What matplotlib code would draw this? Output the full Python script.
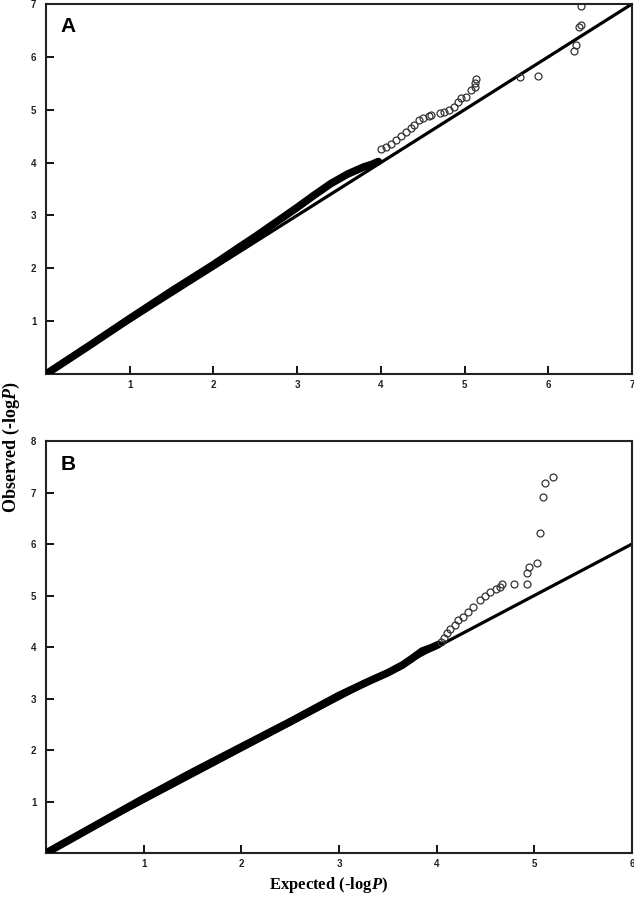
import matplotlib
matplotlib.use("Agg")
import matplotlib.pyplot as plt

# mathtext italic P in the axis labels
plt.rcParams['mathtext.fontset'] = 'custom'
plt.rcParams['mathtext.it'] = 'Liberation Serif:italic:bold'
plt.rcParams['mathtext.rm'] = 'Liberation Serif:bold'

# ---- Panel A data ----
a_band_exp = [0, 0.5, 1.0, 1.5, 2.0, 2.3, 2.5, 2.8, 3.0, 3.2, 3.4, 3.6, 3.8, 3.9, 3.97]
a_band_obs = [0, 0.52, 1.05, 1.57, 2.07, 2.39, 2.6, 2.93, 3.15, 3.38, 3.6, 3.78, 3.92, 3.97, 4.02]
a_tail_exp = [4.00, 4.06, 4.12, 4.18, 4.24, 4.30, 4.36, 4.40, 4.46, 4.50, 4.57, 4.60,
              4.71, 4.76, 4.82, 4.87, 4.92, 4.96, 5.02, 5.08, 5.12, 5.13, 5.14,
              5.66, 5.88, 6.31, 6.33, 6.37, 6.39, 6.39]
a_tail_obs = [4.25, 4.29, 4.35, 4.42, 4.50, 4.58, 4.65, 4.71, 4.80, 4.84, 4.88, 4.90,
              4.93, 4.96, 5.00, 5.05, 5.15, 5.22, 5.24, 5.37, 5.42, 5.50, 5.58,
              5.61, 5.63, 6.11, 6.22, 6.56, 6.60, 6.96]
a_diag = [0, 7]

# ---- Panel B data ----
b_band_exp = [0, 0.5, 1.0, 1.5, 2.0, 2.5, 3.0, 3.3, 3.5, 3.65, 3.75, 3.85, 3.95, 4.02]
b_band_obs = [0, 0.53, 1.06, 1.57, 2.06, 2.55, 3.06, 3.33, 3.5, 3.65, 3.78, 3.92, 3.99, 4.05]
b_tail_exp = [4.04, 4.08, 4.11, 4.14, 4.19, 4.22, 4.27, 4.32, 4.37, 4.44, 4.49, 4.55,
              4.61, 4.65, 4.67, 4.79, 4.92, 4.92, 4.95, 5.03, 5.06, 5.09, 5.11, 5.19]
b_tail_obs = [4.10, 4.17, 4.27, 4.35, 4.42, 4.52, 4.58, 4.68, 4.78, 4.91, 5.00, 5.07,
              5.12, 5.17, 5.22, 5.22, 5.22, 5.44, 5.55, 5.63, 6.21, 6.91, 7.18, 7.30]
b_diag = [0, 6]

panels = [
    ("A", a_band_exp, a_band_obs, a_tail_exp, a_tail_obs, a_diag, 7, 7,
     [0.0726, 0.5844, 0.9242, 0.4112]),
    ("B", b_band_exp, b_band_obs, b_tail_exp, b_tail_obs, b_diag, 6, 8,
     [0.0726, 0.0522, 0.9242, 0.4578]),
]

fig = plt.figure(figsize=(6.34, 9.0), dpi=100)

for letter, bx, by, tx, ty, diag, xmax, ymax, rect in panels:
    ax = fig.add_axes(rect)
    # expected line
    ax.plot(diag, diag, color='black', linewidth=2.3, solid_capstyle='butt', zorder=2)
    # dense part of the QQ points shows as a solid band
    ax.plot(bx, by, color='black', linewidth=5.5, solid_capstyle='round',
            solid_joinstyle='round', zorder=3)
    # tail points as open circles
    ax.plot(tx, ty, linestyle='none', marker='o', markersize=5,
            markerfacecolor='none', markeredgecolor='#333333',
            markeredgewidth=0.9, zorder=4)

    ax.set_xlim(0, xmax)
    ax.set_ylim(0, ymax)
    ax.set_xticks(range(1, xmax + 1))
    ax.set_yticks(range(1, ymax + 1))
    ax.tick_params(direction='in', length=6, width=1.3, colors='black', labelsize=7)
    ax.tick_params(axis='x', pad=4)
    ax.tick_params(axis='y', pad=7)
    for lab in ax.get_xticklabels() + ax.get_yticklabels():
        lab.set_fontfamily('Liberation Sans')
        lab.set_fontweight('bold')
        lab.set_color('#222222')
    for sp in ax.spines.values():
        sp.set_linewidth(1.5)
        sp.set_color('#222222')

    ax.text(0.025, 0.965, letter, transform=ax.transAxes, fontsize=15,
            fontweight='bold', fontfamily='Liberation Sans', va='top', ha='left')

fig.text(0.018, 0.503, 'Observed (-log$P$)', rotation=90, fontsize=13,
         fontfamily='Liberation Serif', fontweight='bold', ha='center', va='center')
fig.text(0.518, 0.0167, 'Expected (-log$P$)', fontsize=12,
         fontfamily='Liberation Serif', fontweight='bold', ha='center', va='center')

fig.savefig('out.png', dpi=100)
